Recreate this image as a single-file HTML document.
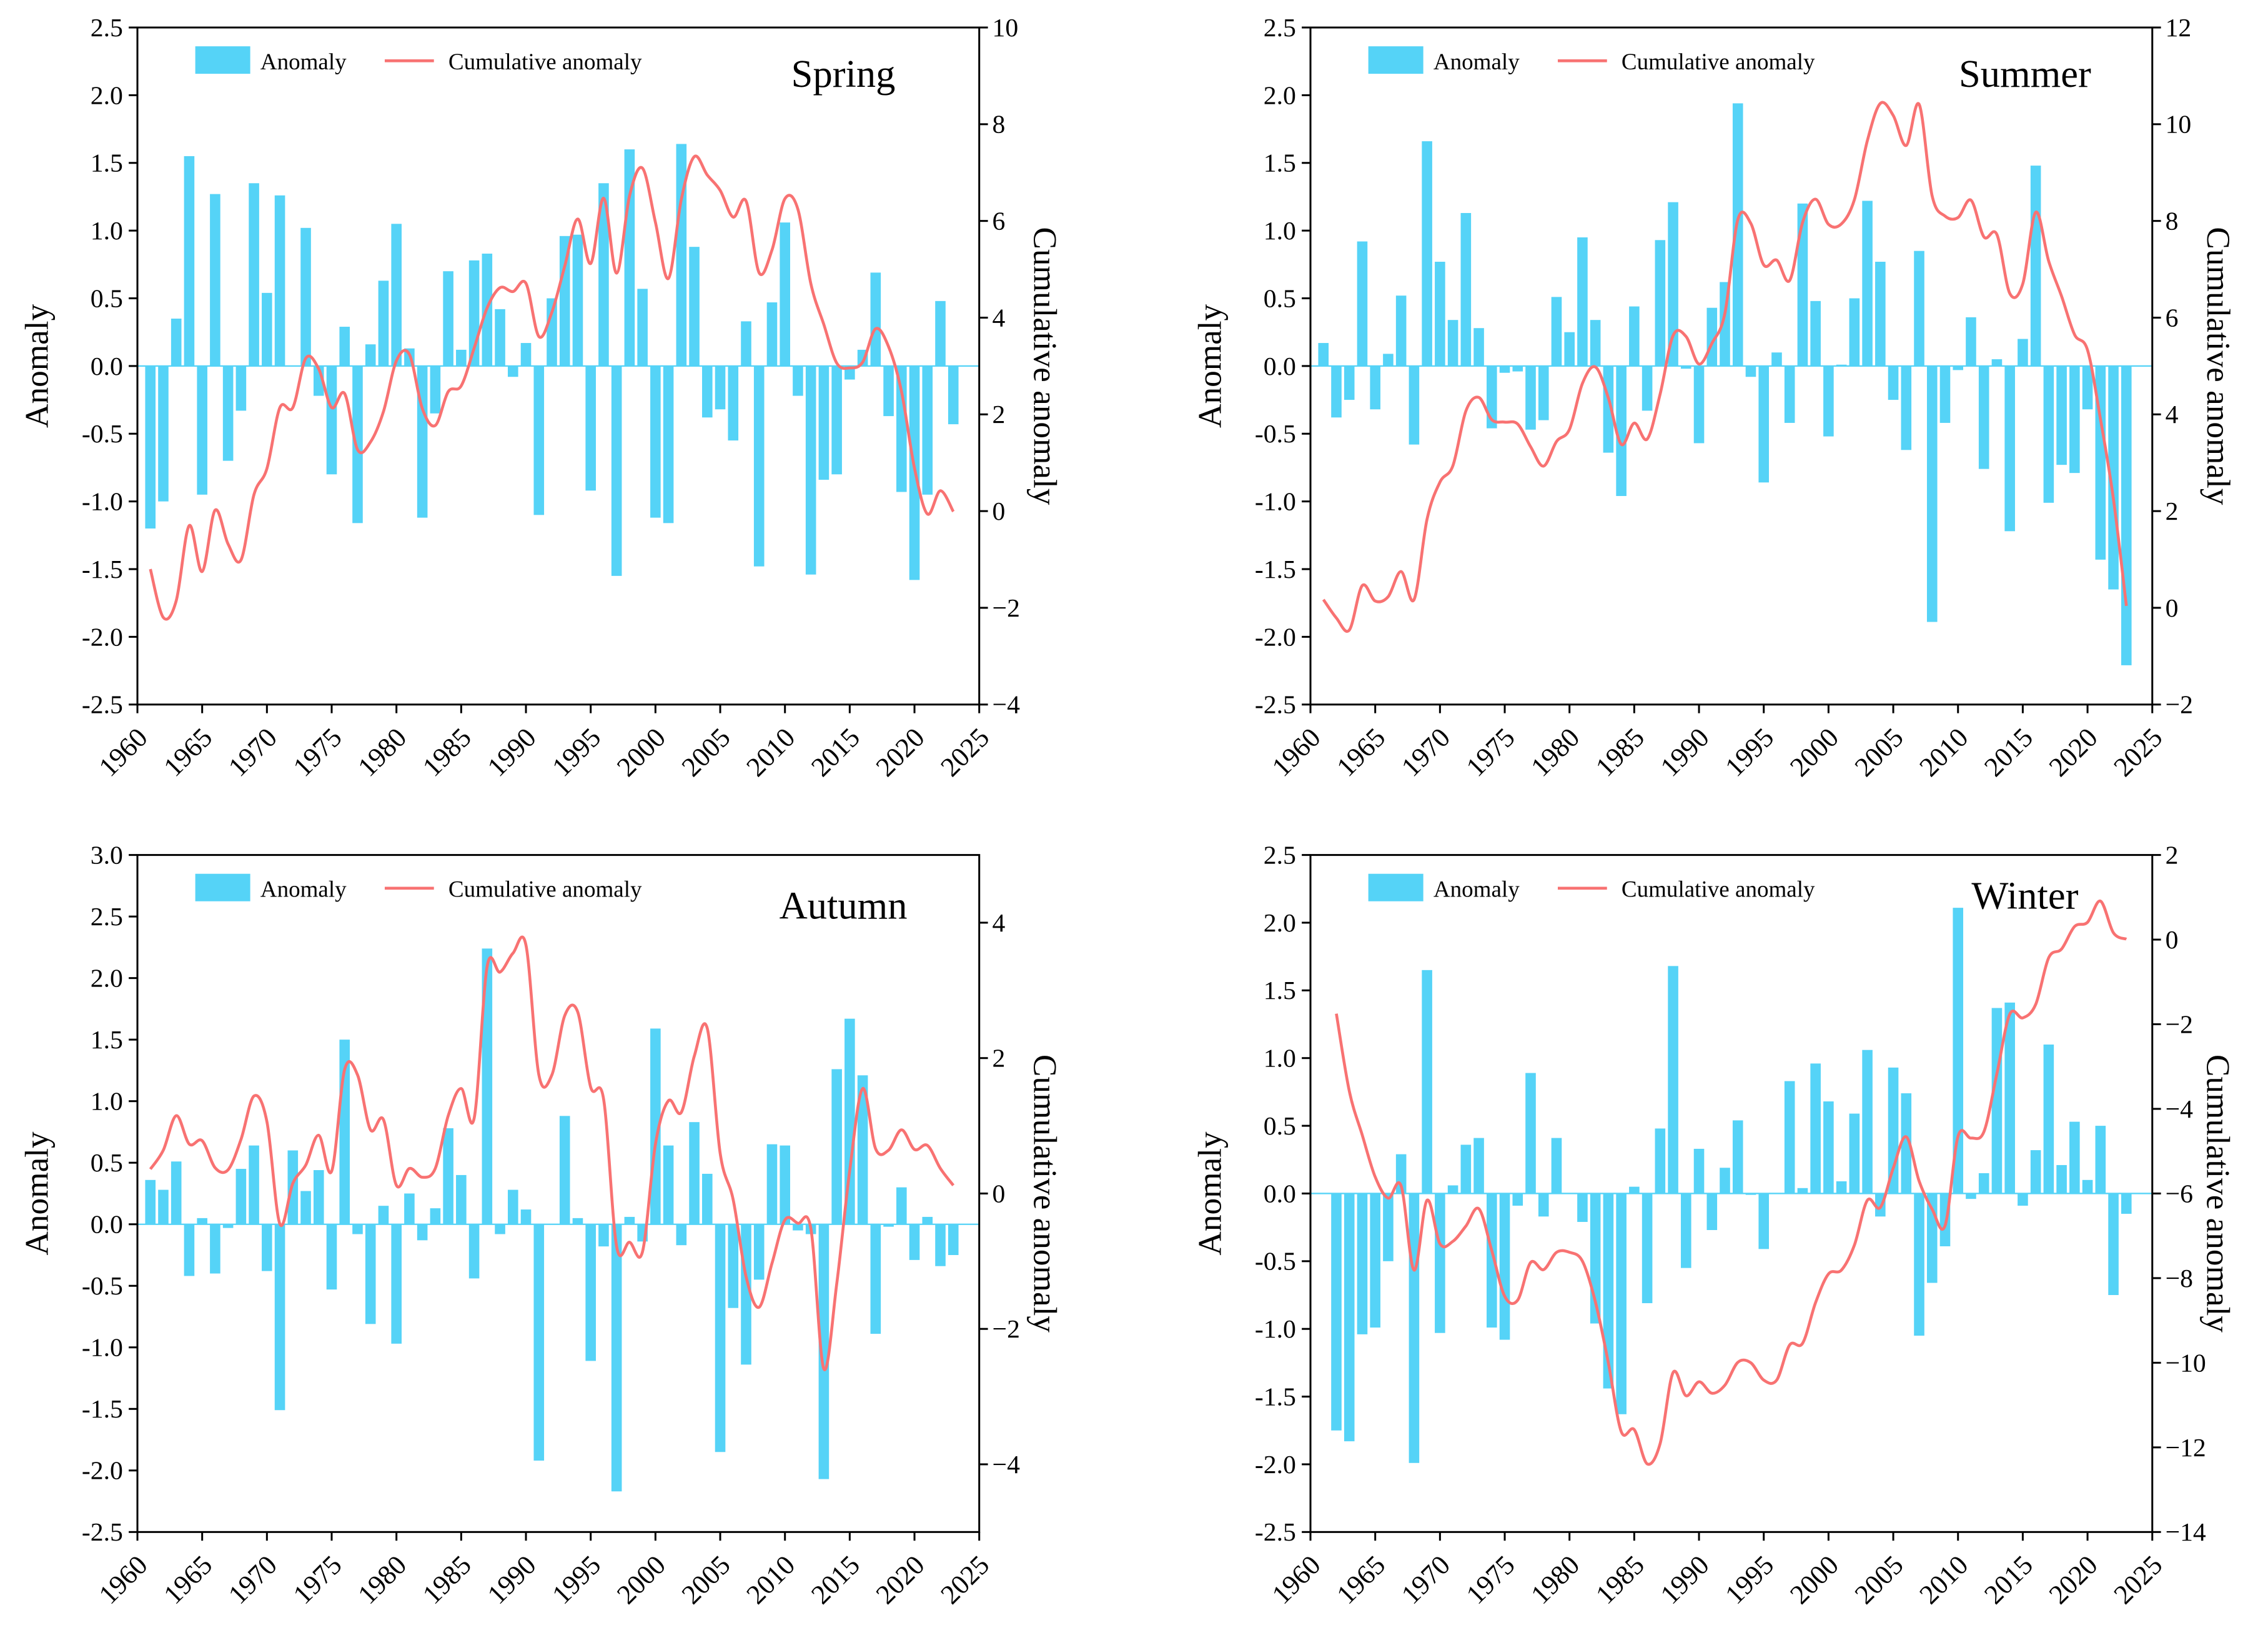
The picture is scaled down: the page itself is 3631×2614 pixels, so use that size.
<!DOCTYPE html>
<html><head><meta charset="utf-8"><style>
html,body{margin:0;padding:0;background:#fff;}
svg{display:block;font-family:"Liberation Serif",serif;}
</style></head><body>
<svg id="chart" width="3631" height="2614" viewBox="0 0 1568 1128.8" xmlns="http://www.w3.org/2000/svg"></svg>
<script>
const springYears0 = 1961;
const springAnom = [-1.2,-1.0,0.35,1.55,-0.95,1.27,-0.7,-0.33,1.35,0.54,1.26,0.0,1.02,-0.22,-0.8,0.29,-1.16,0.16,0.63,1.05,0.13,-1.12,-0.35,0.7,0.12,0.78,0.83,0.42,-0.08,0.17,-1.1,0.5,0.96,0.97,-0.92,1.35,-1.55,1.6,0.57,-1.12,-1.16,1.64,0.88,-0.38,-0.32,-0.55,0.33,-1.48,0.47,1.06,-0.22,-1.54,-0.84,-0.8,-0.1,0.12,0.69,-0.37,-0.93,-1.58,-0.95,0.48,-0.43];
const summerYears0 = 1961;
const summerAnom = [0.17,-0.38,-0.25,0.92,-0.32,0.09,0.52,-0.58,1.66,0.77,0.34,1.13,0.28,-0.46,-0.05,-0.04,-0.47,-0.4,0.51,0.25,0.95,0.34,-0.64,-0.96,0.44,-0.33,0.93,1.21,-0.02,-0.57,0.43,0.62,1.94,-0.08,-0.86,0.1,-0.42,1.2,0.48,-0.52,0.01,0.5,1.22,0.77,-0.25,-0.62,0.85,-1.89,-0.42,-0.03,0.36,-0.76,0.05,-1.22,0.2,1.48,-1.01,-0.73,-0.79,-0.32,-1.43,-1.65,-2.21];
const autumnYears0 = 1961;
const autumnAnom = [0.36,0.28,0.51,-0.42,0.05,-0.4,-0.03,0.45,0.64,-0.38,-1.51,0.6,0.27,0.44,-0.53,1.5,-0.08,-0.81,0.15,-0.97,0.25,-0.13,0.13,0.78,0.4,-0.44,2.24,-0.08,0.28,0.12,-1.92,0.0,0.88,0.05,-1.11,-0.18,-2.17,0.06,-0.14,1.59,0.64,-0.17,0.83,0.41,-1.85,-0.68,-1.14,-0.45,0.65,0.64,-0.05,-0.08,-2.07,1.26,1.67,1.21,-0.89,-0.02,0.3,-0.29,0.06,-0.34,-0.25];
const winterYears0 = 1962;
const winterAnom = [-1.75,-1.83,-1.04,-0.99,-0.5,0.29,-1.99,1.65,-1.03,0.06,0.36,0.41,-0.99,-1.08,-0.09,0.89,-0.17,0.41,0.0,-0.21,-0.96,-1.44,-1.63,0.05,-0.81,0.48,1.68,-0.55,0.33,-0.27,0.19,0.54,-0.01,-0.41,0.0,0.83,0.04,0.96,0.68,0.09,0.59,1.06,-0.17,0.93,0.74,-1.05,-0.66,-0.39,2.11,-0.04,0.15,1.37,1.41,-0.09,0.32,1.1,0.21,0.53,0.1,0.5,-0.75,-0.15];
const xTicks = [1960,1965,1970,1975,1980,1985,1990,1995,2000,2005,2010,2015,2020,2025];

const NS="http://www.w3.org/2000/svg";
const svg=document.getElementById('chart');
function mk(tag,attrs,parent){const e=document.createElementNS(NS,tag);for(const k in attrs)e.setAttribute(k,attrs[k]);(parent||svg).appendChild(e);return e;}

const panels=[
 {name:'spring',title:'Spring',x0:95,x1:677,y0:19,y1:487,lmin:-2.5,lmax:2.5,lstep:0.5,rmin:-4,rmax:10,rstep:2,years0:springYears0,data:springAnom,tx:583,ty:60},
 {name:'summer',title:'Summer',x0:906,x1:1488,y0:19,y1:487,lmin:-2.5,lmax:2.5,lstep:0.5,rmin:-2,rmax:12,rstep:2,years0:summerYears0,data:summerAnom,tx:1400,ty:60},
 {name:'autumn',title:'Autumn',x0:95,x1:677,y0:591,y1:1059,lmin:-2.5,lmax:3.0,lstep:0.5,rmin:-5,rmax:5,rstep:2,rticks:[-4,-2,0,2,4],years0:autumnYears0,data:autumnAnom,tx:583,ty:635},
 {name:'winter',title:'Winter',x0:906,x1:1488,y0:591,y1:1059,lmin:-2.5,lmax:2.5,lstep:0.5,rmin:-14,rmax:2,rstep:2,years0:winterYears0,data:winterAnom,tx:1400,ty:628},
];

panels.forEach(p=>{
 const g=mk('g',{});
 
 
 const xs=y=>p.x0+(y-1960)/(2025-1960)*(p.x1-p.x0);
 const yl=v=>p.y1-(v-p.lmin)/(p.lmax-p.lmin)*(p.y1-p.y0);
 const yr=v=>p.y1-(v-p.rmin)/(p.rmax-p.rmin)*(p.y1-p.y0);
 const bw=(p.x1-p.x0)/65*0.8;
 p.data.forEach((v,i)=>{
  const x=xs(p.years0+i);
  const b=mk('rect',{x:x-bw/2,y:Math.min(yl(0),yl(v)),width:bw,height:Math.abs(yl(v)-yl(0)),fill:'#55d3f7'},g);
  
  
 });
 mk('line',{x1:p.x0,x2:p.x1,y1:yl(0),y2:yl(0),stroke:'#55d3f7','stroke-width':1},g);
 let c=0;const pts=p.data.map((v,i)=>{c+=v;return [xs(p.years0+i),yr(c)];});
 let d='M'+pts[0][0]+','+pts[0][1];
 for(let i=0;i<pts.length-1;i++){
  const p0=pts[Math.max(0,i-1)],p1=pts[i],p2=pts[i+1],p3=pts[Math.min(pts.length-1,i+2)];
  d+=' C'+(p1[0]+(p2[0]-p0[0])/6)+','+(p1[1]+(p2[1]-p0[1])/6)+' '+(p2[0]-(p3[0]-p1[0])/6)+','+(p2[1]-(p3[1]-p1[1])/6)+' '+p2[0]+','+p2[1];
 }
 const ln=mk('path',{d:d,fill:'none',stroke:'#f87272','stroke-width':2},g);
 
 
 mk('rect',{x:p.x0,y:p.y0,width:p.x1-p.x0,height:p.y1-p.y0,fill:'none',stroke:'#000','stroke-width':1.3},g);
 for(let v=p.lmin;v<=p.lmax+1e-9;v+=p.lstep){
  const y=yl(v);
  mk('line',{x1:p.x0-6,x2:p.x0,y1:y,y2:y,stroke:'#000','stroke-width':1.3},g);
  const t=mk('text',{x:p.x0-10,y:y+6,'text-anchor':'end','font-size':18},g);t.textContent=v.toFixed(1);
  
  
 }
 const rt=p.rticks||(()=>{const a=[];for(let v=p.rmin;v<=p.rmax;v+=p.rstep)a.push(v);return a;})();
 rt.forEach(v=>{
  const y=yr(v);
  mk('line',{x1:p.x1,x2:p.x1+6,y1:y,y2:y,stroke:'#000','stroke-width':1.3},g);
  const t=mk('text',{x:p.x1+9,y:y+6,'font-size':18},g);t.textContent=v<0?'\u2212'+(-v):String(v);
  
  
 });
 xTicks.forEach(yv=>{
  const x=xs(yv);
  mk('line',{x1:x,x2:x,y1:p.y1,y2:p.y1+6,stroke:'#000','stroke-width':1.3},g);
  const tx=x+8,ty=p.y1+24;
  const t=mk('text',{x:tx,y:ty,'text-anchor':'end','font-size':19,transform:'rotate(-45 '+tx+' '+ty+')'},g);t.textContent=yv;
  
  
 });
 const cy=(p.y0+p.y1)/2;
 const lt=mk('text',{x:p.x0-62,y:cy,'text-anchor':'middle','font-size':23,transform:'rotate(-90 '+(p.x0-62)+' '+cy+')'},g);lt.textContent='Anomaly';
 
 
 const rx=p.x1+38;
 const rtt=mk('text',{x:rx,y:cy,'text-anchor':'middle','font-size':23,transform:'rotate(90 '+rx+' '+cy+')'},g);rtt.textContent='Cumulative anomaly';
 
 
 const lg=mk('g',{},g);
 
 
 mk('rect',{x:p.x0+40,y:p.y0+13,width:38,height:19,fill:'#55d3f7'},lg);
 const a=mk('text',{x:p.x0+85,y:p.y0+29,'font-size':16},lg);a.textContent='Anomaly';
 mk('line',{x1:p.x0+171,x2:p.x0+205,y1:p.y0+23,y2:p.y0+23,stroke:'#f87272','stroke-width':2},lg);
 const b=mk('text',{x:p.x0+215,y:p.y0+29,'font-size':16},lg);b.textContent='Cumulative anomaly';
 const tt=mk('text',{x:p.tx,y:p.ty,'text-anchor':'middle','font-size':27},g);tt.textContent=p.title;
 
 
});
</script>
</body></html>
